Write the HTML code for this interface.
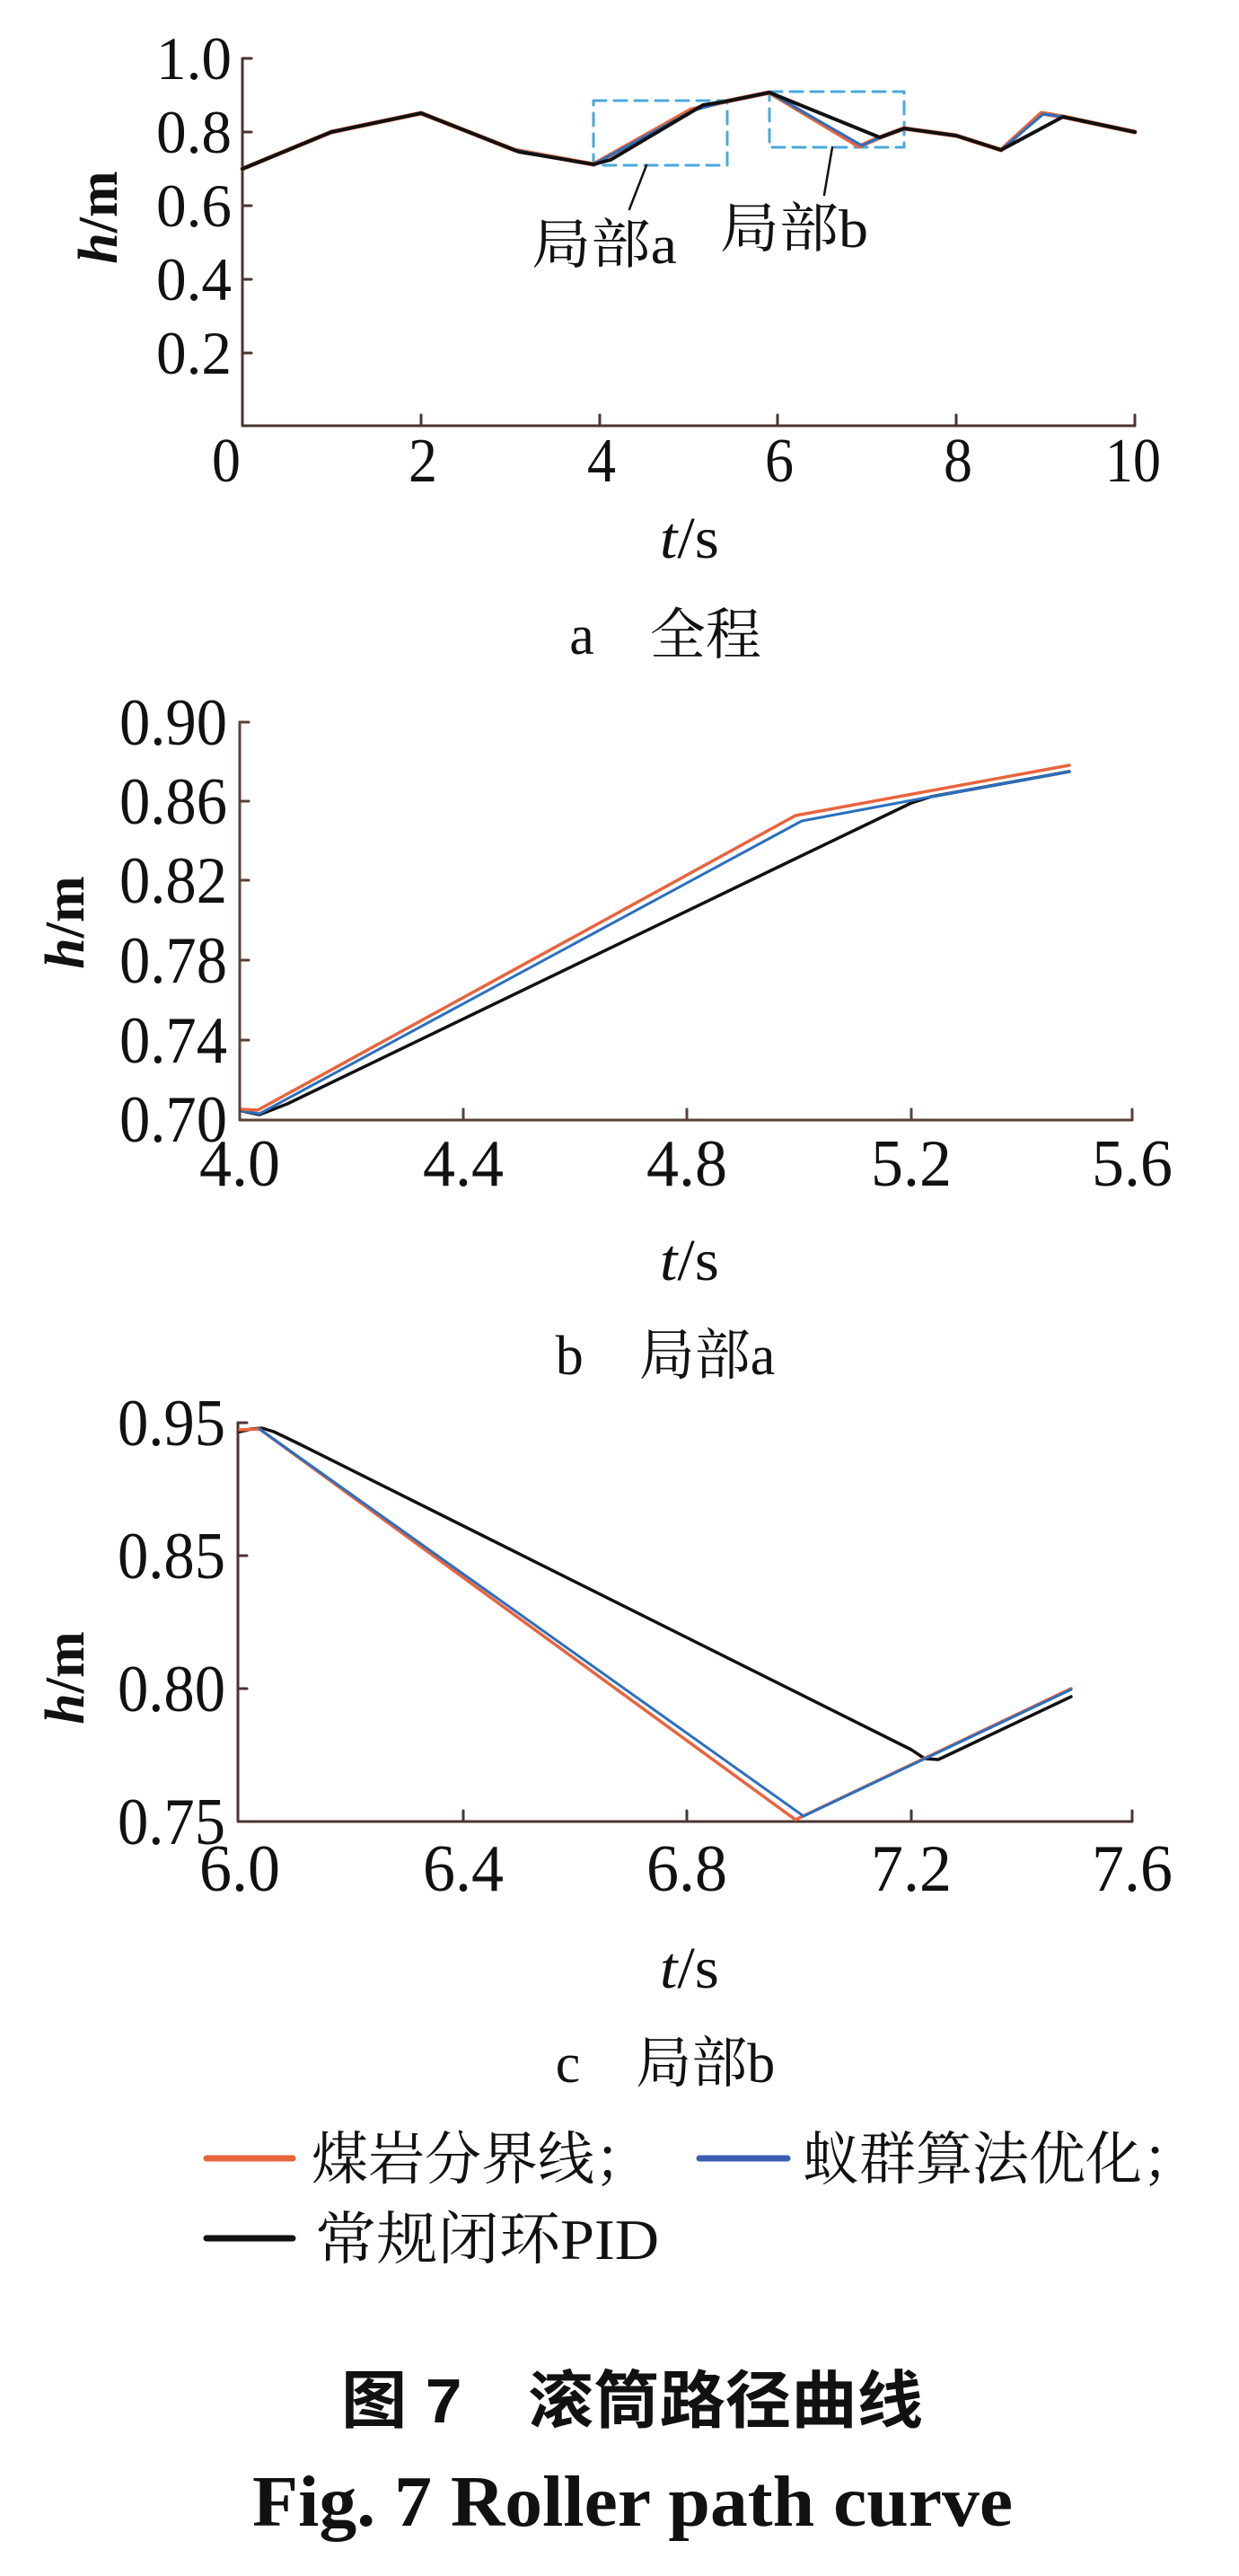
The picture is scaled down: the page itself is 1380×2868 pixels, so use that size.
<!DOCTYPE html>
<html><head><meta charset="utf-8"><style>
html,body{margin:0;padding:0;background:#fff;}
svg{display:block;}
text{font-family:"Liberation Serif","Noto Serif CJK SC",serif;fill:#111;}
.cjk{font-family:"Liberation Serif","Noto Serif CJK SC","Noto Sans CJK SC",serif;}
</style></head><body>
<svg width="1380" height="2868" viewBox="0 0 1380 2868" xmlns="http://www.w3.org/2000/svg">
<g fill="none" stroke-linejoin="round" stroke-linecap="round">
<!-- ===== Chart a ===== -->
<path d="M270 65V474H1264" stroke="#4a3530" stroke-width="3"/>
<path d="M270 65h10M270 147h10M270 229h10M270 311h10M270 393h10M469 474v-12M668 474v-12M866 474v-12M1065 474v-12M1264 474v-12" stroke="#4a3530" stroke-width="3"/>
<rect x="661" y="112" width="149" height="72" stroke="#4aa8dc" stroke-width="3" stroke-dasharray="14,9"/>
<rect x="857" y="102" width="150" height="62" stroke="#4aa8dc" stroke-width="3" stroke-dasharray="14,9"/>
<path d="M720 184L701 233M927 164L918 217" stroke="#111" stroke-width="2.5"/>
<polyline stroke="#e8643c" stroke-width="5" points="270,188 369,147 469,126 573,167 661,183 770,122 808,113 857,103 957,163 980,153 1007,143 1065,151 1115,167 1160,126 1184,130 1264,147"/>
<polyline stroke="#2a6fc0" stroke-width="3" points="270,188 369,147 469,126 573,167 661,183 772,123 808,113 857,103 960,162 980,153 1007,143 1065,151 1115,167 1162,127 1184,130 1264,147"/>
<polyline stroke="#111" stroke-width="4" points="270,188 369,147 469,126 578,169 661,183 680,178 783,117 808,113 857,103 980,153 1007,143 1065,151 1115,167 1184,130 1264,147"/>
<!-- ===== Chart b ===== -->
<path d="M267 804V1247H1261" stroke="#5b4038" stroke-width="3"/>
<path d="M267 804h10M267 892h10M267 980h10M267 1069h10M267 1158h10M516 1247v-12M765 1247v-12M1015 1247v-12M1261 1247v-12" stroke="#5b4038" stroke-width="3"/>
<polyline stroke="#111" stroke-width="3.5" points="270,1237 289,1241 320,1229 886,956 1015,894 1037,887 1191,859"/>
<polyline stroke="#2a6fc0" stroke-width="3" points="270,1237 289,1240 893,914 1032,888 1191,859"/>
<polyline stroke="#e8643c" stroke-width="3.5" points="270,1235 287,1236 886,908 1191,852"/>
<!-- ===== Chart c ===== -->
<path d="M265 1584V2028H1261" stroke="#4a3530" stroke-width="3"/>
<path d="M265 1584h10M265 1732h10M265 1880h10M516 2028v-12M765 2028v-12M1015 2028v-12M1261 2028v-12" stroke="#4a3530" stroke-width="3"/>
<polyline stroke="#111" stroke-width="3.5" points="267,1594 280,1591 292,1590 305,1594 330,1606 1015,1948 1030,1958 1045,1959 1060,1952 1193,1889"/>
<polyline stroke="#e8643c" stroke-width="3.5" points="267,1592 289,1591 886,2026 1193,1880"/>
<polyline stroke="#2a6fc0" stroke-width="3" points="289,1591 895,2022 1193,1881"/>
<!-- legend -->
<path d="M230 2403H326" stroke="#e8643c" stroke-width="7"/>
<path d="M779 2403H877" stroke="#3a5fb0" stroke-width="7"/>
<path d="M230 2492H326" stroke="#111" stroke-width="7"/>
</g>

<!-- Chart a text -->
<g font-size="68" text-anchor="end">
<text x="258" y="88" textLength="84" lengthAdjust="spacingAndGlyphs">1.0</text>
<text x="258" y="170" textLength="84" lengthAdjust="spacingAndGlyphs">0.8</text>
<text x="258" y="252" textLength="84" lengthAdjust="spacingAndGlyphs">0.6</text>
<text x="258" y="334" textLength="84" lengthAdjust="spacingAndGlyphs">0.4</text>
<text x="258" y="416" textLength="84" lengthAdjust="spacingAndGlyphs">0.2</text>
</g>
<g font-size="70" text-anchor="middle">
<text x="252" y="536" textLength="32" lengthAdjust="spacingAndGlyphs">0</text>
<text x="471" y="536" textLength="32" lengthAdjust="spacingAndGlyphs">2</text>
<text x="670" y="536" textLength="32" lengthAdjust="spacingAndGlyphs">4</text>
<text x="868" y="536" textLength="32" lengthAdjust="spacingAndGlyphs">6</text>
<text x="1067" y="536" textLength="32" lengthAdjust="spacingAndGlyphs">8</text>
<text x="1262" y="536" textLength="62" lengthAdjust="spacingAndGlyphs">10</text>
</g>
<text x="110" y="242" font-size="62" text-anchor="middle" dominant-baseline="central" transform="rotate(-90 110 242)"><tspan font-style="italic" font-weight="bold">h</tspan><tspan font-weight="bold">/m</tspan></text>
<text x="768" y="621" font-size="66" text-anchor="middle" textLength="66" lengthAdjust="spacingAndGlyphs"><tspan font-style="italic">t</tspan>/s</text>
<text x="741" y="728" font-size="62" text-anchor="middle" class="cjk">a　全程</text>
<text x="592" y="293" font-size="60" class="cjk" textLength="162" lengthAdjust="spacingAndGlyphs">局部a</text>
<text x="802" y="275" font-size="60" class="cjk" textLength="165" lengthAdjust="spacingAndGlyphs">局部b</text>

<!-- Chart b text -->
<g font-size="74" text-anchor="end">
<text x="253" y="829" textLength="120" lengthAdjust="spacingAndGlyphs">0.90</text>
<text x="253" y="917" textLength="120" lengthAdjust="spacingAndGlyphs">0.86</text>
<text x="253" y="1005" textLength="120" lengthAdjust="spacingAndGlyphs">0.82</text>
<text x="253" y="1094" textLength="120" lengthAdjust="spacingAndGlyphs">0.78</text>
<text x="253" y="1183" textLength="120" lengthAdjust="spacingAndGlyphs">0.74</text>
<text x="253" y="1271" textLength="120" lengthAdjust="spacingAndGlyphs">0.70</text>
</g>
<g font-size="74" text-anchor="middle">
<text x="267" y="1320" textLength="90" lengthAdjust="spacingAndGlyphs">4.0</text>
<text x="516" y="1320" textLength="90" lengthAdjust="spacingAndGlyphs">4.4</text>
<text x="765" y="1320" textLength="90" lengthAdjust="spacingAndGlyphs">4.8</text>
<text x="1015" y="1320" textLength="90" lengthAdjust="spacingAndGlyphs">5.2</text>
<text x="1261" y="1320" textLength="90" lengthAdjust="spacingAndGlyphs">5.6</text>
</g>
<text x="73" y="1027" font-size="62" text-anchor="middle" dominant-baseline="central" transform="rotate(-90 73 1027)"><tspan font-style="italic" font-weight="bold">h</tspan><tspan font-weight="bold">/m</tspan></text>
<text x="768" y="1425" font-size="66" text-anchor="middle" textLength="66" lengthAdjust="spacingAndGlyphs"><tspan font-style="italic">t</tspan>/s</text>
<text x="741" y="1530" font-size="62" text-anchor="middle" class="cjk">b　局部a</text>

<!-- Chart c text -->
<g font-size="74" text-anchor="end">
<text x="251" y="1609" textLength="120" lengthAdjust="spacingAndGlyphs">0.95</text>
<text x="251" y="1757" textLength="120" lengthAdjust="spacingAndGlyphs">0.85</text>
<text x="251" y="1905" textLength="120" lengthAdjust="spacingAndGlyphs">0.80</text>
<text x="251" y="2053" textLength="120" lengthAdjust="spacingAndGlyphs">0.75</text>
</g>
<g font-size="74" text-anchor="middle">
<text x="267" y="2105" textLength="90" lengthAdjust="spacingAndGlyphs">6.0</text>
<text x="516" y="2105" textLength="90" lengthAdjust="spacingAndGlyphs">6.4</text>
<text x="765" y="2105" textLength="90" lengthAdjust="spacingAndGlyphs">6.8</text>
<text x="1015" y="2105" textLength="90" lengthAdjust="spacingAndGlyphs">7.2</text>
<text x="1261" y="2105" textLength="90" lengthAdjust="spacingAndGlyphs">7.6</text>
</g>
<text x="73" y="1868" font-size="62" text-anchor="middle" dominant-baseline="central" transform="rotate(-90 73 1868)"><tspan font-style="italic" font-weight="bold">h</tspan><tspan font-weight="bold">/m</tspan></text>
<text x="768" y="2213" font-size="66" text-anchor="middle" textLength="66" lengthAdjust="spacingAndGlyphs"><tspan font-style="italic">t</tspan>/s</text>
<text x="741" y="2318" font-size="62" text-anchor="middle" class="cjk">c　局部b</text>

<!-- legend text -->
<text x="347" y="2426" font-size="64" class="cjk" textLength="378" lengthAdjust="spacingAndGlyphs">煤岩分界线；</text>
<text x="894" y="2426" font-size="64" class="cjk" textLength="441" lengthAdjust="spacingAndGlyphs">蚁群算法优化；</text>
<text x="351" y="2515" font-size="64" class="cjk" textLength="383" lengthAdjust="spacingAndGlyphs">常规闭环PID</text>

<!-- title -->
<text x="380" y="2697" font-size="70" font-weight="bold" style='font-family:"Liberation Sans","Noto Sans CJK SC",sans-serif' textLength="648" lengthAdjust="spacingAndGlyphs">图 7　滚筒路径曲线</text>
<text x="281" y="2812" font-size="80" font-weight="bold" textLength="847" lengthAdjust="spacingAndGlyphs">Fig.  7   Roller  path  curve</text>
</svg>
</body></html>
